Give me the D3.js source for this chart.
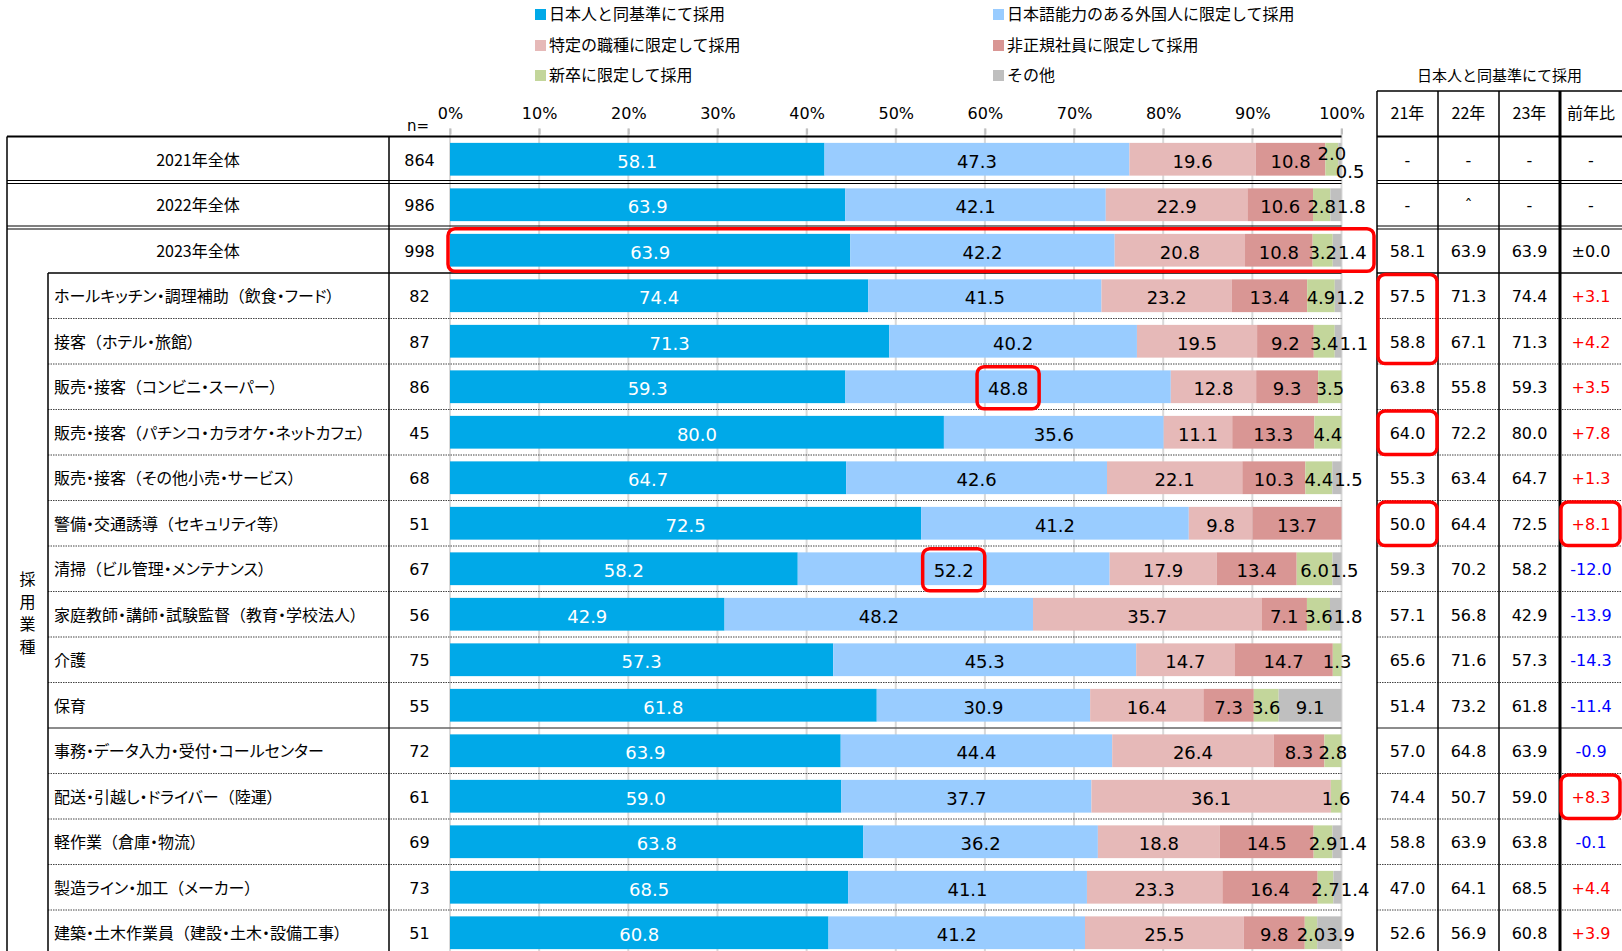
<!DOCTYPE html>
<html>
<head>
<meta charset="utf-8">
<title>外国人の採用方針</title>
<script src="https://cdn.jsdelivr.net/npm/d3@7"></script>
<style>
body { margin: 0; background: #fff; }
svg text { font-family: "Noto Sans CJK JP", sans-serif; fill: #000; }
svg text.num { font-family: "DejaVu Sans", sans-serif; }
svg text.palt { font-feature-settings: "palt"; }
svg tspan.full { font-feature-settings: normal; }
</style>
</head>
<body>
<svg id="chart" width="1622" height="951"></svg>
<script>
// 行（カテゴリ）
var rows = ["2021年全体", "2022年全体", "2023年全体",
  "ホールキッチン・調理補助（飲食・フード）", "接客（ホテル・旅館）", "販売・接客（コンビニ・スーパー）",
  "販売・接客（パチンコ・カラオケ・ネットカフェ）", "販売・接客（その他小売・サービス）", "警備・交通誘導（セキュリティ等）",
  "清掃（ビル管理・メンテナンス）", "家庭教師・講師・試験監督（教育・学校法人）", "介護", "保育",
  "事務・データ入力・受付・コールセンター", "配送・引越し・ドライバー（陸運）", "軽作業（倉庫・物流）",
  "製造ライン・加工（メーカー）", "建築・土木作業員（建設・土木・設備工事）"];
var nValues = [864, 986, 998, 82, 87, 86, 45, 68, 51, 67, 56, 75, 55, 72, 61, 69, 73, 51];

var seriesNames = ["日本人と同基準にて採用", "日本語能力のある外国人に限定して採用", "特定の職種に限定して採用",
  "非正規社員に限定して採用", "新卒に限定して採用", "その他"];
var seriesColors = ["#00a9e8", "#99ccff", "#e6b9b8", "#d99694", "#c3d69b", "#bfbfbf"];

// 各系列の値（%）
var sameStd     = [58.1, 63.9, 63.9, 74.4, 71.3, 59.3, 80.0, 64.7, 72.5, 58.2, 42.9, 57.3, 61.8, 63.9, 59.0, 63.8, 68.5, 60.8];
var jpAbility   = [47.3, 42.1, 42.2, 41.5, 40.2, 48.8, 35.6, 42.6, 41.2, 52.2, 48.2, 45.3, 30.9, 44.4, 37.7, 36.2, 41.1, 41.2];
var specificJob = [19.6, 22.9, 20.8, 23.2, 19.5, 12.8, 11.1, 22.1, 9.8, 17.9, 35.7, 14.7, 16.4, 26.4, 36.1, 18.8, 23.3, 25.5];
var nonRegular  = [10.8, 10.6, 10.8, 13.4, 9.2, 9.3, 13.3, 10.3, 13.7, 13.4, 7.1, 14.7, 7.3, 8.3, null, 14.5, 16.4, 9.8];
var newGrad     = [2.0, 2.8, 3.2, 4.9, 3.4, 3.5, 4.4, 4.4, null, 6.0, 3.6, 1.3, 3.6, 2.8, 1.6, 2.9, 2.7, 2.0];
var others      = [0.5, 1.8, 1.4, 1.2, 1.1, null, null, 1.5, null, 1.5, 1.8, null, 9.1, null, null, 1.4, 1.4, 3.9];

// 右の表（日本人と同基準にて採用）
var tableHeads = ["21年", "22年", "23年", "前年比"];
var col21 = ["-", "-", "58.1", "57.5", "58.8", "63.8", "64.0", "55.3", "50.0", "59.3", "57.1", "65.6", "51.4", "57.0", "74.4", "58.8", "47.0", "52.6"];
var col22 = ["-", "ˆ", "63.9", "71.3", "67.1", "55.8", "72.2", "63.4", "64.4", "70.2", "56.8", "71.6", "73.2", "64.8", "50.7", "63.9", "64.1", "56.9"];
var col23 = ["-", "-", "63.9", "74.4", "71.3", "59.3", "80.0", "64.7", "72.5", "58.2", "42.9", "57.3", "61.8", "63.9", "59.0", "63.8", "68.5", "60.8"];
var colDiff = ["-", "-", "±0.0", "+3.1", "+4.2", "+3.5", "+7.8", "+1.3", "+8.1", "-12.0", "-13.9", "-14.3", "-11.4", "-0.9", "+8.3", "-0.1", "+4.4", "+3.9"];

// 赤枠
var barHighlight = [2];
var labelHighlight = [[5, 1], [9, 1]];
var cellHighlight = [[0, 3, 4], [0, 6, 6], [0, 8, 8], [3, 8, 8], [3, 14, 14]];

var svg = d3.select("#chart");
var keys = ["s0", "s1", "s2", "s3", "s4", "s5"];
var allSeries = [sameStd, jpAbility, specificJob, nonRegular, newGrad, others];
var data = rows.map(function(r, i) {
  var o = { row: r };
  keys.forEach(function(k, j) { o[k] = allSeries[j][i]; });
  return o;
});

var x = d3.scaleLinear().domain([0, 1]).range([450, 1341.5]);
var y = d3.scaleBand().domain(rows).range([136.5, 955.5]).paddingInner(0.28).paddingOuter(0.14);
var step = y.step();
function rowTop(i) { return 136.5 + i * step; }
function rowMid(i) { return y(rows[i]) + y.bandwidth() / 2; }

var stacked = d3.stack().keys(keys)
  .value(function(d, k) { return d[k] || 0; })
  .offset(d3.stackOffsetExpand)(data);

// grid
var ticks = d3.range(0, 11).map(function(d) { return d / 10; });
svg.append("g").selectAll("line").data(ticks).enter().append("line")
  .attr("x1", function(d) { return x(d); }).attr("x2", function(d) { return x(d); })
  .attr("y1", 128.5).attr("y2", 951)
  .attr("stroke", "#d9d9d9").attr("stroke-width", 2);

var axis = svg.append("g").attr("transform", "translate(0,134.5)")
  .call(d3.axisTop(x).tickValues(ticks).tickFormat(d3.format(".0%")).tickSize(6).tickPadding(10));
axis.select(".domain").remove();
axis.selectAll("line").attr("stroke", "#bfbfbf").attr("stroke-width", 2);
axis.selectAll("text").attr("class", "num").style("font-size", "16px").attr("fill", "#000");

svg.append("text").attr("class", "num").attr("x", 418).attr("y", 131)
  .attr("text-anchor", "middle").style("font-size", "15px").text("n=");

// bars
svg.append("g").selectAll("g").data(stacked).enter().append("g")
  .attr("fill", function(d, i) { return seriesColors[i]; })
  .selectAll("rect").data(function(d) { return d; }).enter().append("rect")
  .attr("x", function(d) { return x(d[0]); })
  .attr("width", function(d) { return Math.max(0, x(d[1]) - x(d[0])); })
  .attr("y", function(d) { return y(d.data.row); })
  .attr("height", y.bandwidth());

// value labels
var labelG = svg.append("g");
var labelPos = {};
rows.forEach(function(r, i) {
  var cy = rowMid(i) + 2;
  var prev = null;
  stacked.forEach(function(s, k) {
    var v = data[i][keys[k]];
    if (!v) return;
    var cx = (x(s[i][0]) + x(s[i][1])) / 2;
    var t = labelG.append("text").attr("class", "num")
      .attr("x", cx).attr("y", cy).attr("dy", "0.35em")
      .attr("text-anchor", "middle")
      .style("font-size", "18px")
      .style("fill", k === 0 ? "#fff" : "#000")
      .text(v.toFixed(1));
    var w = t.node().getComputedTextLength();
    if (prev && cx - w / 2 < prev.right) {
      var need = prev.right - (cx - w / 2);
      if (need > 0.68 * w) {
        prev.t.attr("y", cy - 8);
        cx += need / 2;
        t.attr("x", cx).attr("y", cy + 10);
      } else {
        cx += need + 1;
        t.attr("x", cx);
      }
    }
    labelPos[i + "_" + k] = { x: cx, w: w };
    prev = { t: t, right: cx + w / 2 };
  });
});

// legend
var legend = svg.append("g").selectAll("g").data(seriesNames).enter().append("g")
  .attr("transform", function(d, i) {
    return "translate(" + (i % 2 === 0 ? 535 : 993) + "," + [14.5, 45.5, 75.5][Math.floor(i / 2)] + ")";
  });
legend.append("rect").attr("x", 0).attr("y", -5.5).attr("width", 11).attr("height", 11)
  .attr("fill", function(d, i) { return seriesColors[i]; });
legend.append("text").attr("x", 14).attr("dy", "0.35em").style("font-size", "16px")
  .text(function(d) { return d; });

// left table
var lines = svg.append("g").attr("stroke", "#000").attr("fill", "none");
function hline(x1, x2, yy, w, dash, color) {
  lines.append("line").attr("x1", x1).attr("x2", x2).attr("y1", yy).attr("y2", yy)
    .attr("stroke-width", w).attr("stroke", color || "#000").attr("stroke-dasharray", dash || null);
}
function vline(xx, y1, y2, w) {
  lines.append("line").attr("x1", xx).attr("x2", xx).attr("y1", y1).attr("y2", y2).attr("stroke-width", w);
}
var tableX = [1377, 1438, 1499, 1560, 1622];
for (var i = 0; i <= rows.length; i++) {
  var yy = rowTop(i);
  if (i === 0) {
    hline(7, x(1), yy, 2);
    hline(tableX[0], 1622, yy, 2);
  } else if (i === 1 || i === 2) {
    [-1.5, 1.5].forEach(function(o) {
      hline(7, x(1), yy + o, 1.2);
      hline(tableX[0], 1622, yy + o, 1.2);
    });
  } else if (i === 3) {
    hline(48, x(1), yy, 1.5);
    hline(tableX[0], 1622, yy, 1.5);
  } else if (i === 13) {
    hline(48, x(1), yy, 1.5, null, "#666");
    hline(tableX[0], 1622, yy, 1.5, null, "#666");
  } else if (i < rows.length) {
    hline(48, x(1), yy, 1, "1.5,1", "#444");
    hline(tableX[0], 1622, yy, 1, "1.5,1", "#444");
  }
}
vline(7, rowTop(0), 951, 1.5);
vline(48, rowTop(3), 951, 1.5);
vline(389, rowTop(0), 951, 1.5);
hline(tableX[0], 1622, 91, 1.5);
tableX.slice(0, 4).forEach(function(xx, j) { vline(xx, 91, 951, j === 3 ? 3 : 1.5); });

var txt = svg.append("g");
rows.forEach(function(r, i) {
  var cy = rowMid(i) + 1;
  var t = txt.append("text").attr("class", "palt")
    .attr("x", i < 3 ? (7 + 389) / 2 : 54).attr("y", cy).attr("dy", "0.35em")
    .attr("text-anchor", i < 3 ? "middle" : "start")
    .style("font-size", "16px");
  r.split(/(（)/).forEach(function(part) {
    if (!part) return;
    t.append("tspan").attr("class", part === "（" ? "full" : null).text(part);
  });
  txt.append("text").attr("class", "num").attr("x", 419.5).attr("y", cy).attr("dy", "0.35em")
    .attr("text-anchor", "middle").style("font-size", "16px").text(nValues[i]);
});
txt.selectAll(null).data(["採", "用", "業", "種"]).enter().append("text")
  .attr("x", 27.5).attr("y", function(d, j) { return 613.5 + (j - 1.5) * 22.7; })
  .attr("dy", "0.35em").attr("text-anchor", "middle").style("font-size", "16px")
  .text(function(d) { return d; });

// right table
svg.append("text").attr("x", (tableX[0] + 1622) / 2).attr("y", 75.5).attr("dy", "0.35em")
  .attr("text-anchor", "middle").style("font-size", "15px").text(seriesNames[0]);
tableHeads.forEach(function(h, j) {
  svg.append("text").attr("x", (tableX[j] + tableX[j + 1]) / 2).attr("y", 113).attr("dy", "0.35em")
    .attr("text-anchor", "middle").style("font-size", "16px").text(h);
});
[col21, col22, col23, colDiff].forEach(function(col, j) {
  col.forEach(function(v, i) {
    var color = "#000";
    if (j === 3 && v.charAt(0) === "+") color = "#ff0000";
    if (j === 3 && v.charAt(0) === "-" && v.length > 1) color = "#0000ff";
    svg.append("text").attr("class", "num")
      .attr("x", (tableX[j] + tableX[j + 1]) / 2).attr("y", rowMid(i) + 1).attr("dy", "0.35em")
      .attr("text-anchor", "middle").style("font-size", "16px").style("fill", color).text(v);
  });
});

// red boxes
var red = svg.append("g").attr("fill", "none").attr("stroke", "#ff0000").attr("stroke-width", 3.5);
barHighlight.forEach(function(i) {
  red.append("rect").attr("x", x(0) - 2).attr("y", rowMid(i) - 21.5)
    .attr("width", 1374 - x(0) + 2).attr("height", 42.5).attr("rx", 7);
});
labelHighlight.forEach(function(p) {
  var l = labelPos[p[0] + "_" + p[1]];
  red.append("rect").attr("x", l.x - l.w / 2 - 11).attr("y", rowMid(p[0]) - 20)
    .attr("width", l.w + 22).attr("height", 42).attr("rx", 7);
});
cellHighlight.forEach(function(c) {
  var right = c[0] === 3 ? 1620 : tableX[c[0] + 1] - 1;
  red.append("rect").attr("x", tableX[c[0]] + 1).attr("y", rowTop(c[1]) + 1.5)
    .attr("width", right - tableX[c[0]] - 1).attr("height", rowTop(c[2] + 1) - rowTop(c[1]) - 2)
    .attr("rx", 7);
});
</script>
</body>
</html>
